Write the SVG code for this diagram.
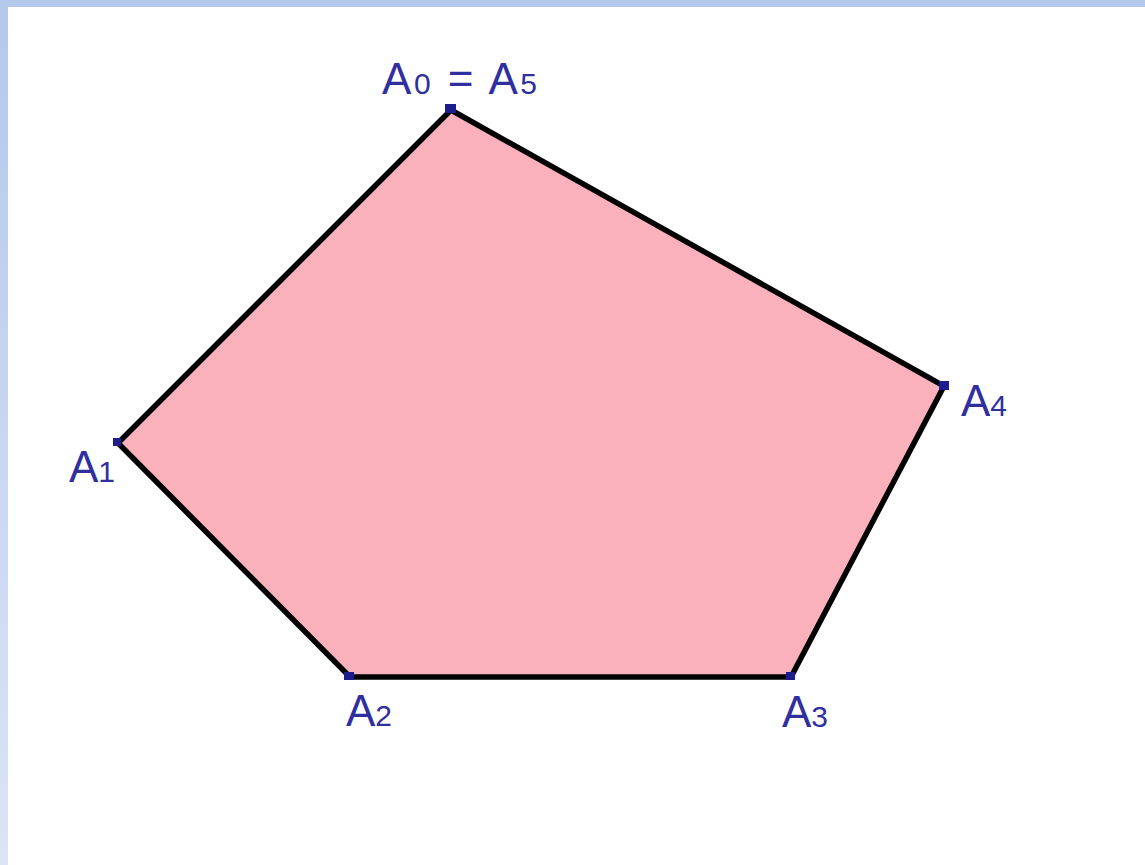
<svg xmlns="http://www.w3.org/2000/svg" width="1145" height="865" viewBox="0 0 1145 865">
<defs>
<linearGradient id="lg" x1="0" y1="0" x2="0" y2="1">
<stop offset="0" stop-color="#b4c8ea"/>
<stop offset="1" stop-color="#dce4f5"/>
</linearGradient>
<style>
.lbl{font-family:"Liberation Sans",Arial,sans-serif;font-size:44px;fill:#2f2fa0}
.sub{font-size:30px}
.pt{fill:#1c1c8c}
</style>
</defs>
<rect x="0" y="0" width="1145" height="865" fill="#ffffff"/>
<rect x="0" y="0" width="1145" height="7" fill="#b4c8ea"/>
<rect x="0" y="0" width="8" height="865" fill="url(#lg)"/>
<g id="connectors">
<polygon points="451,110 118,443 350,677 791,677 944,386" fill="#fbb1bb" stroke="#000000" stroke-width="5.5" stroke-linejoin="miter"/>
</g>
<g id="A0"><rect class="pt" x="445" y="104" width="11" height="9"/><text class="lbl" x="382" y="94" textLength="155" lengthAdjust="spacing">A<tspan class="sub">0</tspan> = A<tspan class="sub">5</tspan></text></g>
<g id="A1"><rect class="pt" x="113" y="438" width="8" height="8"/><text class="lbl" x="69" y="482">A<tspan class="sub">1</tspan></text></g>
<g id="A2"><rect class="pt" x="344" y="672" width="10" height="8"/><text class="lbl" x="346" y="726">A<tspan class="sub">2</tspan></text></g>
<g id="A3"><rect class="pt" x="786" y="672" width="9" height="8"/><text class="lbl" x="782" y="727">A<tspan class="sub">3</tspan></text></g>
<g id="A4"><rect class="pt" x="939" y="381" width="10" height="9"/><text class="lbl" x="961" y="416">A<tspan class="sub">4</tspan></text></g>
</svg>
